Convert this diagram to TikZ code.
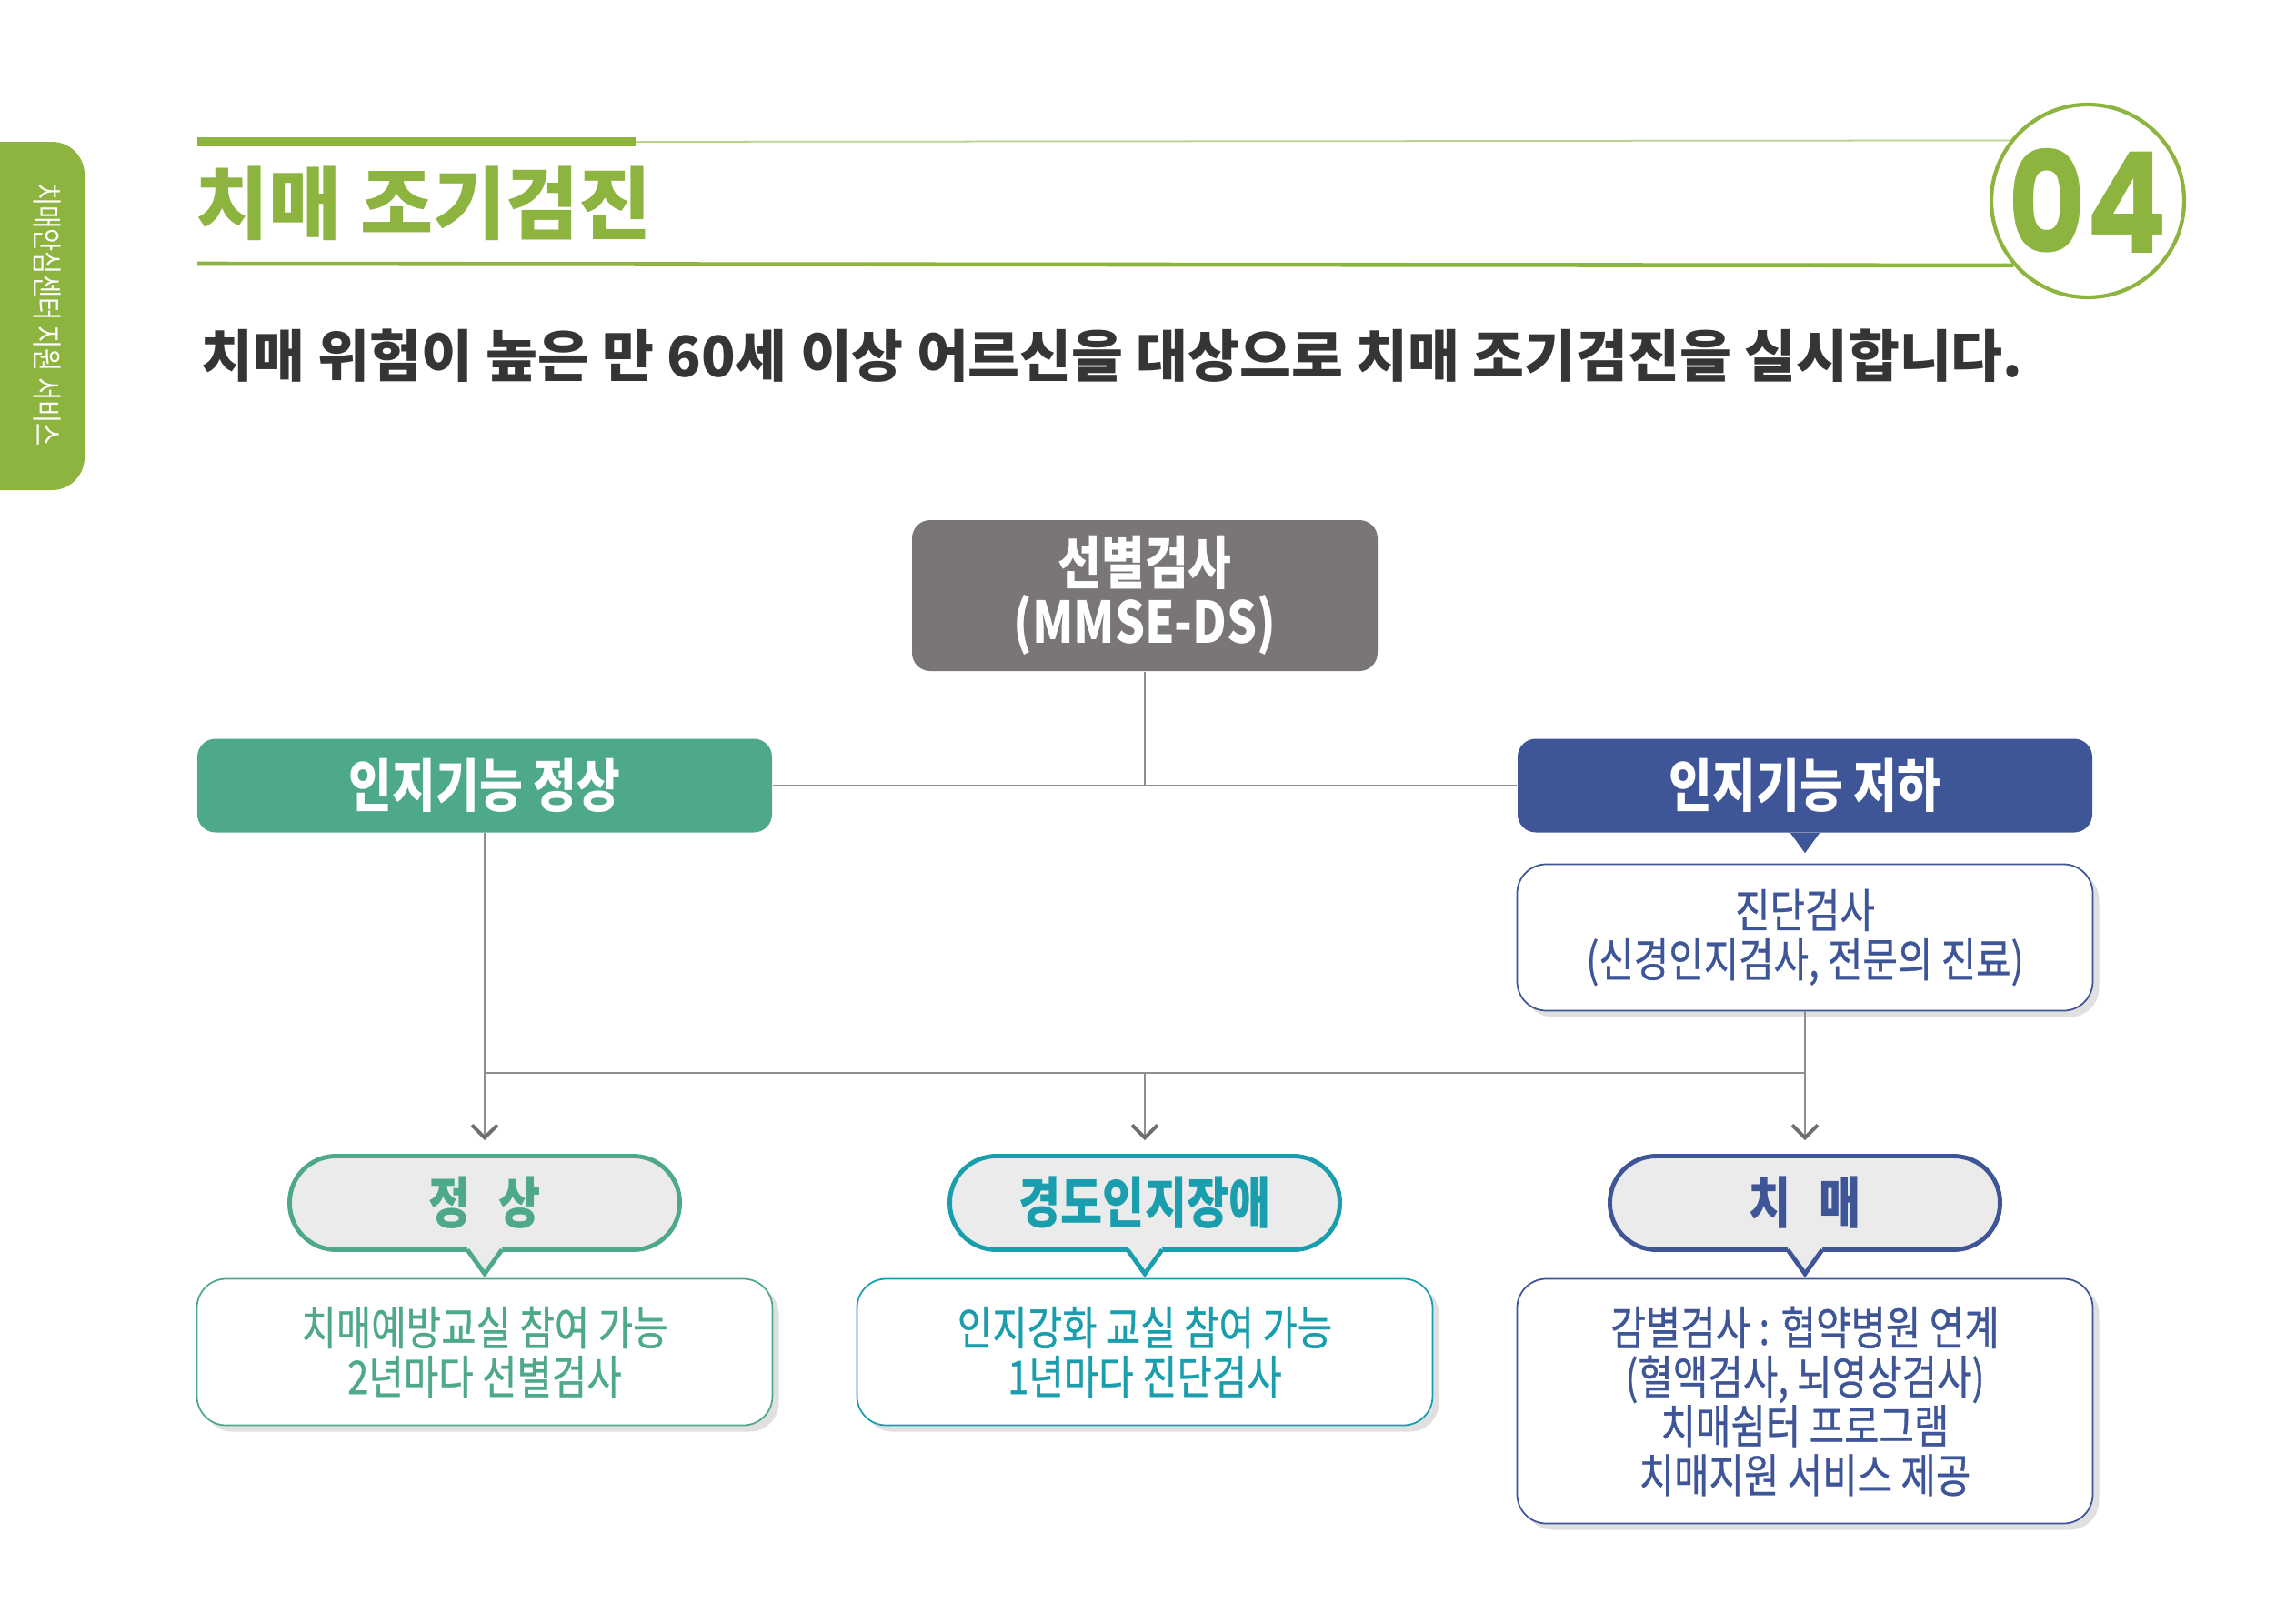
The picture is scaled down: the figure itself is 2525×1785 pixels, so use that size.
\documentclass[tikz,border=0pt]{standalone}
\usepackage{fontspec}
\setmainfont[FakeStretch=0.82]{Noto Sans CJK KR}
\newfontfamily\titlefont{Noto Sans CJK KR}
\newfontfamily\infofont[FakeStretch=0.82, FakeBold=0.6]{Noto Sans CJK KR}
\newfontfamily\numfont[FakeStretch=0.85]{Poppins}
\usetikzlibrary{arrows.meta, shadows}

\definecolor{limegreen}{HTML}{8CB43E}
\definecolor{paleline}{HTML}{B9D18B}
\definecolor{okgreen}{HTML}{4DA98A}
\definecolor{lowblue}{HTML}{3E5597}
\definecolor{mciteal}{HTML}{1A9EAD}
\definecolor{screengray}{HTML}{7A7678}
\definecolor{linegray}{HTML}{8E8E8E}
\definecolor{tipgray}{HTML}{6E6E6E}
\definecolor{bubblefill}{HTML}{EBEBEB}
\definecolor{leadtext}{HTML}{353535}

\begin{document}
\begin{tikzpicture}[x=0.1mm, y=-0.1mm,
    headbox/.style={rounded corners=2mm, text=white, font=\bfseries\fontsize{18}{18.5}\selectfont,
        minimum width=63.2mm, minimum height=10.3mm, inner sep=0pt, align=center},
    infobox/.style={draw=#1, line width=0.5pt, fill=white, rounded corners=3.2mm, text=#1,
        font=\infofont\fontsize{14.5}{15.4}\selectfont, align=center, minimum width=63.3mm, inner sep=0pt,
        drop shadow={shadow xshift=0.7mm, shadow yshift=-0.7mm, fill=black!12, opacity=1}},
    bubble/.style={draw=#1, line width=1.4pt, fill=bubblefill, rounded corners=5.1mm, text=#1,
        font=\bfseries\fontsize{17.4}{18}\selectfont, minimum width=42.9mm, minimum height=10.3mm, inner sep=0pt},
    link/.style={linegray, line width=0.6pt},
    downarrow/.style={link, -{Straight Barb[length=1.4mm, width=2.8mm, line width=1.1pt, color=tipgray]}}
]
    \useasboundingbox (0,0) rectangle (2525,1785);
    \fill[white] (0,0) rectangle (2525,1785);

    % Side tab
    \fill[limegreen, rounded corners=3.6mm] (-60,156) rectangle (93,539);
    \node[rotate=-90, text=white, font=\fontsize{9.5}{10}\selectfont] (tabtext) at (52,346) {치매안심센터 지원 서비스};

    % Title and badge
    \node[circle, draw=limegreen, line width=1.2pt, minimum size=21.2mm, inner sep=0pt, text=limegreen,
        font=\numfont\bfseries\fontsize{44}{44}\selectfont] (badge) at (2296,221) {04};
    \draw[paleline, line width=0.5pt] (699,156) -- (badge.142);
    \draw[limegreen, line width=2.8pt] (217,156) -- (699,156);
    \draw[limegreen, line width=1.3pt] (217,290) -- (badge.221);
    \node[anchor=base west, inner sep=0pt, text=limegreen, font=\titlefont\bfseries\fontsize{24.8}{28}\selectfont]
        (title) at (215,256) {치매 조기검진};
    \node[anchor=base west, inner sep=0pt, text=leadtext, font=\titlefont\bfseries\fontsize{17.6}{19}\selectfont]
        (lead) at (221,414) {치매 위험이 높은 만 60세 이상 어르신을 대상으로 치매 조기검진을 실시합니다.};

    % Screening and the two branches
    \node[headbox, fill=screengray, minimum width=51.2mm, minimum height=16.6mm] (screen) at (1259,655) {선별검사\\(MMSE-DS)};
    \node[headbox, fill=okgreen] (normal) at (533,864) {인지기능 정상};
    \node[headbox, fill=lowblue] (decline) at (1985,864) {인지기능 저하};
    \fill[lowblue] ([xshift=-1.6mm]decline.south) -- ([yshift=-2.2mm]decline.south) -- ([xshift=1.6mm]decline.south) -- cycle;
    \node[infobox=lowblue, minimum height=16.1mm] (diag) at (1985,1031) {진단검사\\(신경인지검사, 전문의 진료)};

    \draw[link] (screen.south) -- (screen.south |- normal.east);
    \draw[link] (normal.east) -- (decline.west);

    % Result bubbles
    \node[bubble=okgreen] (nb) at (533,1323) {정\enspace 상};
    \node[bubble=mciteal] (nm) at (1259,1323) {경도인지장애};
    \node[bubble=lowblue] (nd) at (1985,1323) {치\enspace 매};
    \fill[bubblefill] ([xshift=-1.9mm,yshift=1mm]nb.south) -- ([xshift=-1.9mm]nb.south) -- ([yshift=-2.4mm]nb.south) -- ([xshift=1.9mm]nb.south) -- ([xshift=1.9mm,yshift=1mm]nb.south) -- cycle;
    \draw[okgreen, line width=1.4pt] ([xshift=-1.9mm,yshift=0.7pt]nb.south) -- ([yshift=-2.4mm]nb.south) -- ([xshift=1.9mm,yshift=0.7pt]nb.south);
    \fill[bubblefill] ([xshift=-1.9mm,yshift=1mm]nm.south) -- ([xshift=-1.9mm]nm.south) -- ([yshift=-2.4mm]nm.south) -- ([xshift=1.9mm]nm.south) -- ([xshift=1.9mm,yshift=1mm]nm.south) -- cycle;
    \draw[mciteal, line width=1.4pt] ([xshift=-1.9mm,yshift=0.7pt]nm.south) -- ([yshift=-2.4mm]nm.south) -- ([xshift=1.9mm,yshift=0.7pt]nm.south);
    \fill[bubblefill] ([xshift=-1.9mm,yshift=1mm]nd.south) -- ([xshift=-1.9mm]nd.south) -- ([yshift=-2.4mm]nd.south) -- ([xshift=1.9mm]nd.south) -- ([xshift=1.9mm,yshift=1mm]nd.south) -- cycle;
    \draw[lowblue, line width=1.4pt] ([xshift=-1.9mm,yshift=0.7pt]nd.south) -- ([yshift=-2.4mm]nd.south) -- ([xshift=1.9mm,yshift=0.7pt]nd.south);

    % Connectors down to the bubbles
    \coordinate (bus) at (533,1180);
    \draw[link] (bus) -- (bus -| diag.south);
    \draw[downarrow] (normal.south) -- ([yshift=1.5mm]nb.north);
    \draw[downarrow] (bus -| nm.north) -- ([yshift=1.5mm]nm.north);
    \draw[downarrow] (diag.south) -- ([yshift=1.5mm]nd.north);

    % Follow-up boxes
    \node[infobox=okgreen, minimum height=16.1mm] (nbinfo) at (533,1487) {치매예방교실 참여 가능\\2년마다 선별검사};
    \node[infobox=mciteal, minimum height=16.1mm] (nminfo) at (1259,1487) {인지강화 교실 참여 가능\\1년마다 진단검사};
    \node[infobox=lowblue, minimum height=26.9mm] (ndinfo) at (1985,1541) {감별검사 : 협약병원 연계\\(혈액검사, 뇌영상검사)\\치매쉼터 프로그램\\치매지원 서비스 제공};
\end{tikzpicture}
\end{document}
